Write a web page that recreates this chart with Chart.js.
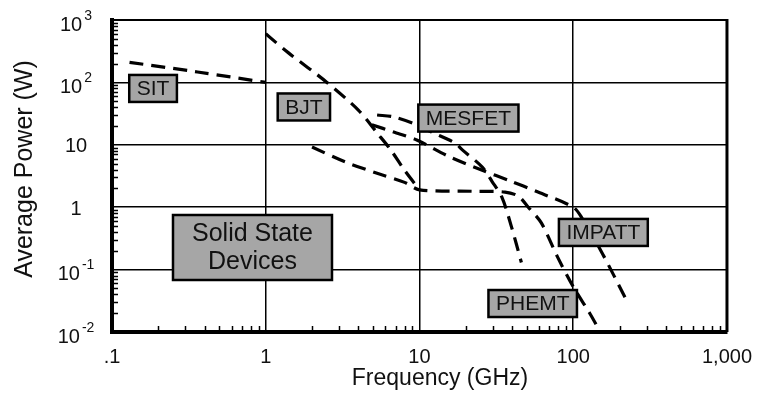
<!DOCTYPE html>
<html>
<head>
<meta charset="utf-8">
<script src="https://cdn.jsdelivr.net/npm/chart.js@4.4.1/dist/chart.umd.min.js"></script>
<style>
  html, body { margin: 0; padding: 0; background: #fff; }
  #wrap { width: 765px; height: 393px; }
</style>
</head>
<body>
<div id="wrap"><canvas id="chart" width="765" height="393"></canvas></div>
<script>
// axes
const xTicks = [0.1, 1, 10, 100, 1000];
const xTickLabels = [".1", "1", "10", "100", "1,000"];
const yTicks = [0.01, 0.1, 1, 10, 100, 1000];
const yTickBase = ["10", "10", "1", "10", "10", "10"];
const yTickExp = ["-2", "-1", "", "", "2", "3"];

// device curves, frequency in GHz / average power in W
const sitFreq = [0.13, 0.36, 1];
const sitPower = [210, 147, 100];
const bjtFreq = [1, 1.4, 2.5, 4, 5.3, 6.5, 8, 10];
const bjtPower = [600, 300, 100, 36, 15.5, 8.3, 3.9, 1.9];
const mesfetFreq = [5.3, 6.8, 9.6, 12, 17, 19, 25.6, 29.6, 34.3, 39.7, 46];
const mesfetPower = [30, 28, 21, 16, 10.7, 8.3, 4.4, 2.6, 1.46, 0.48, 0.13];
const impattFreq = [4.9, 6.8, 9.6, 15.7, 25.6, 38, 59, 100, 114, 155, 221];
const impattPower = [21, 16, 11.9, 6.4, 3.9, 2.7, 1.75, 1.0, 0.67, 0.18, 0.033];
const phemtFreq = [2, 3.3, 5.3, 8, 10, 22, 36, 44, 51, 62, 79, 100, 128, 150];
const phemtPower = [9.2, 5.3, 3.5, 2.5, 1.9, 1.8, 1.75, 1.5, 1.0, 0.56, 0.16, 0.053, 0.02, 0.01];

const FONT = '"Liberation Sans", Arial, Helvetica, sans-serif';

function toPoints(freq, power) {
  return freq.map((f, i) => ({ x: f, y: power[i] }));
}

function curve(freq, power) {
  return {
    data: toPoints(freq, power),
    borderColor: "#000",
    borderWidth: 3.2,
    borderDash: [14, 8],
    pointRadius: 0,
    tension: 0.3,
    fill: false
  };
}

// boxed labels, anchored at a frequency / power centre
const boxes = [
  { text: ["SIT"], f: 0.185, p: 80, size: 21 },
  { text: ["BJT"], f: 1.77, p: 40.4, size: 21 },
  { text: ["MESFET"], f: 20.8, p: 26.8, size: 21 },
  { text: ["IMPATT"], f: 157, p: 0.394, size: 21 },
  { text: ["PHEMT"], f: 54.5, p: 0.0286, size: 21 },
  { text: ["Solid State", "Devices"], f: 0.82, p: 0.226, size: 25, w: 159, h: 65 }
];

const decorPlugin = {
  id: "decor",
  afterDatasetsDraw(chart) {
    const { ctx, chartArea: a, scales: { x, y } } = chart;
    ctx.save();

    // inward minor ticks on left and bottom edges
    ctx.strokeStyle = "#000";
    ctx.lineWidth = 1.5;
    ctx.beginPath();
    for (let d = -2; d < 3; d++) {
      for (let m = 2; m <= 9; m++) {
        const py = Math.round(y.getPixelForValue(m * Math.pow(10, d))) + 0.5;
        ctx.moveTo(a.left, py);
        ctx.lineTo(a.left + 6, py);
      }
    }
    for (let d = -1; d < 3; d++) {
      for (let m = 2; m <= 9; m++) {
        const px = Math.round(x.getPixelForValue(m * Math.pow(10, d))) + 0.5;
        ctx.moveTo(px, a.bottom);
        ctx.lineTo(px, a.bottom - 6);
      }
    }
    ctx.stroke();

    // top and right frame
    ctx.lineWidth = 2;
    ctx.beginPath();
    ctx.moveTo(a.left, a.top);
    ctx.lineTo(a.right, a.top);
    ctx.stroke();
    ctx.lineWidth = 3;
    ctx.beginPath();
    ctx.moveTo(a.right, a.top - 1);
    ctx.lineTo(a.right, a.bottom);
    ctx.stroke();

    // label boxes
    boxes.forEach((b) => {
      const cx = x.getPixelForValue(b.f);
      const cy = y.getPixelForValue(b.p);
      ctx.font = `${b.size}px ${FONT}`;
      const tw = Math.max(...b.text.map((t) => ctx.measureText(t).width));
      const w = b.w || tw + 15;
      const h = b.h || 27;
      ctx.fillStyle = "#a6a6a6";
      ctx.fillRect(cx - w / 2, cy - h / 2, w, h);
      ctx.lineWidth = 2.5;
      ctx.strokeStyle = "#000";
      ctx.strokeRect(cx - w / 2, cy - h / 2, w, h);
      ctx.fillStyle = "#111";
      ctx.textAlign = "center";
      ctx.textBaseline = "middle";
      const lh = b.size * 1.12;
      b.text.forEach((t, i) => {
        ctx.fillText(t, cx, cy + (i - (b.text.length - 1) / 2) * lh + 1);
      });
    });
    ctx.restore();
  },
  afterDraw(chart) {
    const { ctx, scales: { y } } = chart;
    ctx.save();
    ctx.fillStyle = "#111";
    ctx.textBaseline = "middle";

    // y tick labels with superscript exponents
    yTicks.forEach((v, i) => {
      const py = y.getPixelForValue(v);
      ctx.font = `20px ${FONT}`;
      const w1 = ctx.measureText(yTickBase[i]).width;
      if (yTickExp[i]) {
        ctx.font = `14px ${FONT}`;
        const w2 = ctx.measureText(yTickExp[i]).width;
        const left = 76 - (w1 + 2 + w2) / 2;
        ctx.textAlign = "left";
        ctx.fillText(yTickExp[i], left + w1 + 2, py - 4);
        ctx.font = `20px ${FONT}`;
        ctx.fillText(yTickBase[i], left, py + 5);
      } else {
        ctx.textAlign = "center";
        ctx.fillText(yTickBase[i], 76, py + 2);
      }
    });

    // axis titles
    ctx.textAlign = "center";
    ctx.font = `23px ${FONT}`;
    ctx.fillText("Frequency (GHz)", 440, 379);
    ctx.translate(25, 169);
    ctx.rotate(-Math.PI / 2);
    ctx.font = `25px ${FONT}`;
    ctx.fillText("Average Power (W)", 0, 0);
    ctx.restore();
  }
};

new Chart(document.getElementById("chart"), {
  type: "line",
  data: {
    datasets: [
      curve(sitFreq, sitPower),
      curve(bjtFreq, bjtPower),
      curve(mesfetFreq, mesfetPower),
      curve(impattFreq, impattPower),
      curve(phemtFreq, phemtPower)
    ]
  },
  options: {
    responsive: false,
    animation: false,
    devicePixelRatio: 1,
    layout: { padding: { top: 20, right: 25, left: 0, bottom: 0 } },
    plugins: { legend: { display: false }, tooltip: { enabled: false } },
    scales: {
      x: {
        type: "logarithmic",
        min: 0.1,
        max: 1000,
        afterBuildTicks: (axis) => { axis.ticks = xTicks.map((v) => ({ value: v })); },
        afterFit: (axis) => { axis.height = 61; },
        grid: {
          color: "#000",
          lineWidth: 1.5,
          drawTicks: false
        },
        border: { color: "#000", width: 4 },
        ticks: {
          autoSkip: false,
          maxRotation: 0,
          padding: 13,
          color: "#111",
          font: { size: 20, family: FONT },
          callback: (value) => xTickLabels[xTicks.indexOf(value)]
        }
      },
      y: {
        type: "logarithmic",
        min: 0.01,
        max: 1000,
        afterBuildTicks: (axis) => { axis.ticks = yTicks.map((v) => ({ value: v })); },
        afterFit: (axis) => { axis.width = 112; },
        grid: {
          color: "#000",
          lineWidth: 1.5,
          drawTicks: false
        },
        border: { color: "#000", width: 4 },
        ticks: { display: false }
      }
    }
  },
  plugins: [decorPlugin]
});
</script>
</body>
</html>
